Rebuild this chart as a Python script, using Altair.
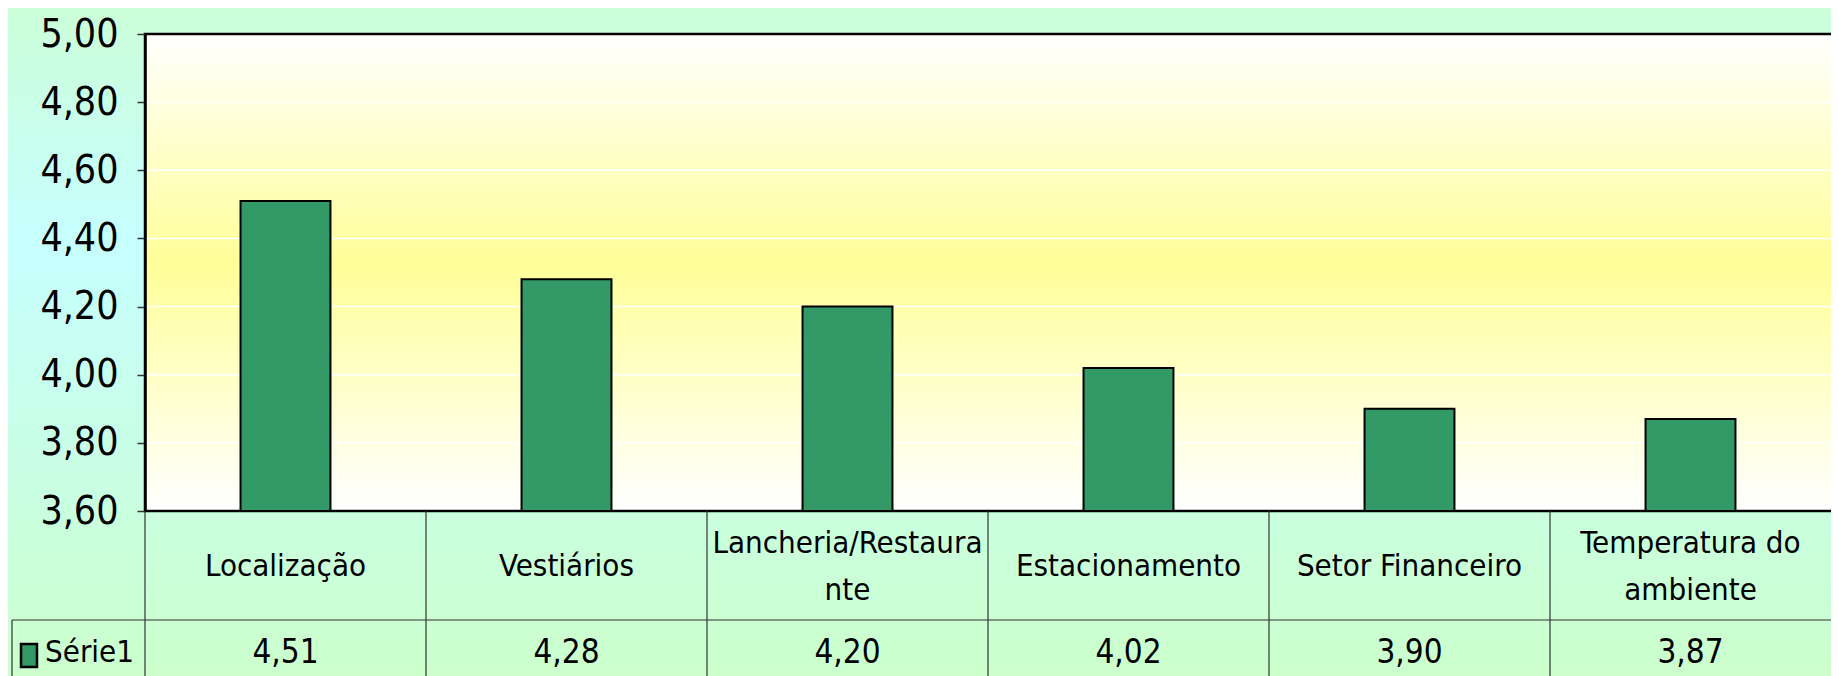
import altair as alt
import pandas as pd

categories = ["Localização", "Vestiários", "Lancheria/Restaurante",
              "Estacionamento", "Setor Financeiro", "Temperatura do ambiente"]
label_line1 = ["Localização", "Vestiários", "Lancheria/Restaura",
               "Estacionamento", "Setor Financeiro", "Temperatura do"]
label_line2 = ["", "", "nte", "", "", "ambiente"]
values = [4.51, 4.28, 4.20, 4.02, 3.90, 3.87]
series_name = "Série1"
y_ticks = [3.6, 3.8, 4.0, 4.2, 4.4, 4.6, 4.8, 5.0]

FONT = "DejaVu Sans Condensed, DejaVu Sans, sans-serif"
W, H = 1686, 477
BAR = "#339966"

df = pd.DataFrame({
    "cat": categories,
    "l1": label_line1,
    "l2": label_line2,
    "value": values,
    "vlabel": [f"{v:.2f}".replace(".", ",") for v in values],
})
single = df[df["l2"] == ""]
double = df[df["l2"] != ""]
grid_df = pd.DataFrame({"y": y_ticks[1:-1]})
one = pd.DataFrame({"k": [0]})

xscale = alt.Scale(domain=categories, paddingInner=0, paddingOuter=0)
yscale = alt.Scale(domain=[3.6, 5.0], zero=False, nice=False)
X = alt.X("cat:N", scale=xscale, sort=categories, axis=None)

outer_grad = alt.LinearGradient(
    gradient="linear", x1=0, x2=0, y1=0, y2=1,
    stops=[alt.GradientStop(color="#CCFFD9", offset=0),
           alt.GradientStop(color="#C6FFFF", offset=0.35),
           alt.GradientStop(color="#CCFFCC", offset=1)])
plot_grad = alt.LinearGradient(
    gradient="linear", x1=0, x2=0, y1=0, y2=1,
    stops=[alt.GradientStop(color="#FFFFFF", offset=0),
           alt.GradientStop(color="#FFFF99", offset=0.48),
           alt.GradientStop(color="#FFFFFF", offset=1)])

outer_bg = alt.Chart(one).mark_rect(fill=outer_grad).encode(
    x=alt.value(-137), x2=alt.value(W + 20), y=alt.value(-26), y2=alt.value(H + 165))

plot_bg = alt.Chart(one).mark_rect(fill=plot_grad, stroke="black", strokeWidth=2.5).encode(
    x=alt.value(0), x2=alt.value(W + 10), y=alt.value(0), y2=alt.value(H))

grid = alt.Chart(grid_df).mark_rule(color="white", strokeWidth=1.5).encode(
    y=alt.Y("y:Q", scale=yscale,
            axis=alt.Axis(values=y_ticks, title=None, grid=False,
                          labelExpr="replace(format(datum.value, '.2f'), '.', ',')",
                          labelFont=FONT, labelFontSize=39, labelColor="black",
                          labelPadding=19, labelFlush=False, labelOverlap=False,
                          tickSize=8, tickColor="#333333", tickWidth=1.5,
                          domainColor="black", domainWidth=2.5, zindex=1)))

bars = alt.Chart(df).mark_bar(width=alt.RelativeBandSize(0.32), color=BAR,
                              stroke="black", strokeWidth=2).encode(
    x=X, y=alt.Y("value:Q", scale=yscale), y2=alt.datum(3.6))

col_lines = alt.Chart(df).mark_rule(color="#333333", strokeWidth=1.2).encode(
    x=alt.X("cat:N", scale=xscale, sort=categories, bandPosition=0, axis=None),
    y=alt.value(H), y2=alt.value(H + 200))

hline = alt.Chart(one).mark_rule(color="#333333", strokeWidth=1.2).encode(
    x=alt.value(-133), x2=alt.value(W + 20), y=alt.value(586))
vline = alt.Chart(one).mark_rule(color="#333333", strokeWidth=1.2).encode(
    x=alt.value(-133), y=alt.value(586), y2=alt.value(H + 200))

txt = dict(font=FONT, fontSize=31, color="black", baseline="middle")
cat_single = alt.Chart(single).mark_text(**txt).encode(x=X, y=alt.value(533), text="l1:N")
cat_d1 = alt.Chart(double).mark_text(**txt).encode(x=X, y=alt.value(510), text="l1:N")
cat_d2 = alt.Chart(double).mark_text(**txt).encode(x=X, y=alt.value(557), text="l2:N")

val_text = alt.Chart(df).mark_text(font=FONT, fontSize=33, color="black",
                                   baseline="middle").encode(
    x=X, y=alt.value(619), text="vlabel:N")

legend_sq = alt.Chart(one).mark_rect(fill=BAR, stroke="black", strokeWidth=2.5).encode(
    x=alt.value(-124), x2=alt.value(-108), y=alt.value(610), y2=alt.value(633))
legend_txt = alt.Chart(pd.DataFrame({"t": [series_name]})).mark_text(
    font=FONT, fontSize=31, color="black", align="left", baseline="middle").encode(
    x=alt.value(-100), y=alt.value(619), text="t:N")

chart = alt.layer(outer_bg, plot_bg, grid, bars, col_lines, hline, vline,
                  cat_single, cat_d1, cat_d2, val_text, legend_sq, legend_txt).properties(
    width=W, height=H,
    autosize=alt.AutoSizeParams(type="none"),
    padding={"left": 137, "top": 26, "right": 0, "bottom": 165},
).configure_view(stroke=None).configure(background="#CCFFDD")

chart.save("out.html", embed_options={"renderer": "svg", "actions": False})
